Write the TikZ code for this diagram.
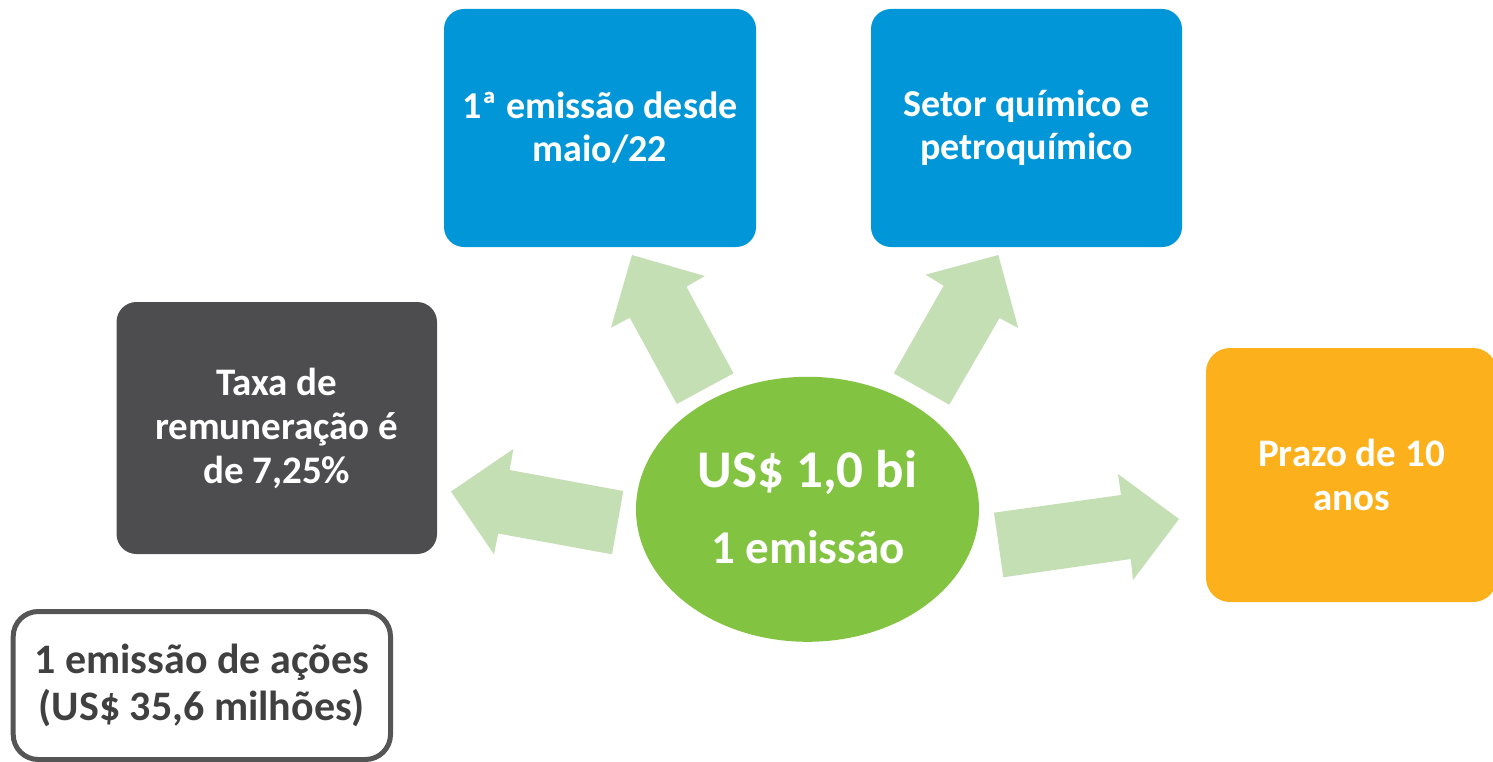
\documentclass[tikz,border=0pt]{standalone}
\usepackage{fontspec}
\setmainfont{Carlito}
\usetikzlibrary{shapes.geometric}
\definecolor{cblue}{HTML}{0096D8}
\definecolor{cdark}{HTML}{4D4D4F}
\definecolor{corange}{HTML}{FBB01C}
\definecolor{cgreen}{HTML}{82C341}
\definecolor{clight}{HTML}{C3DFB3}
\definecolor{cborder}{HTML}{555555}
\definecolor{ctext}{HTML}{404040}
\begin{document}
\begin{tikzpicture}[x=1pt,y=-1pt,
  box/.style={rectangle, rounded corners=20pt, inner sep=0pt, align=center,
    text=white, font=\bfseries\fontsize{38}{43}\selectfont},
  blockarrow/.style={fill=clight, draw=none}]
\useasboundingbox (0,0) rectangle (1493,762);
\clip (0,0) rectangle (1493,762);
% boxes
\node[box, fill=cblue, minimum width=312pt, minimum height=238pt] (b1) at (600,128) {1ª emissão desde\\maio/22};
\node[box, fill=cblue, minimum width=311pt, minimum height=238pt] (b2) at (1026.5,128) {Setor químico e\\petroquímico};
\node[box, fill=cdark, minimum width=320.5pt, minimum height=252pt, font=\bfseries\fontsize{39}{44}\selectfont] (b3) at (276.75,428) {Taxa de\\remuneração é\\de 7,25\%};
\node[box, fill=corange, rounded corners=24pt, minimum width=291pt, minimum height=254pt, font=\bfseries\fontsize{39}{44}\selectfont] (b4) at (1351.5,475) {Prazo de 10\\anos};
\node[rectangle, draw=cborder, line width=5pt, rounded corners=25pt, inner sep=0pt,
  minimum width=377.3pt, minimum height=148pt, align=center, text=ctext,
  font=\bfseries\fontsize{42}{47}\selectfont] (b5) at (201.85,685.5) {1 emissão de ações\\(US\$ 35,6 milhões)};
% block arrows
\fill[blockarrow] (676.8,404) -- (629.8,317.7) -- (611,327.7) -- (632,255) -- (704.8,276) -- (686.4,286.7) -- (733.5,373.3) -- cycle;
\fill[blockarrow] (893.8,373.3) -- (949.3,404.7) -- (999.5,318) -- (1018.2,328) -- (998.3,255) -- (925.6,274.7) -- (943.6,285.7) -- cycle;
\fill[blockarrow] (623.3,491) -- (509.6,470) -- (513.4,449) -- (451,491.5) -- (494,554.3) -- (498.2,533.5) -- (612,554.3) -- cycle;
\fill[blockarrow] (994,512.7) -- (1121,495) -- (1118,474) -- (1179,519) -- (1133,580) -- (1130.7,559) -- (1003.3,577.3) -- cycle;
% centre
\node[ellipse, fill=cgreen, inner sep=0pt, minimum width=343pt, minimum height=265pt] (c) at (807.5,509.3) {};
\node[anchor=base, text=white, inner sep=0pt, font=\bfseries\fontsize{53}{60}\selectfont] (c1) at (807.5,487) {US\$ 1,0 bi};
\node[anchor=base, text=white, inner sep=0pt, font=\bfseries\fontsize{47}{52}\selectfont] (c2) at (808,563) {1 emissão};
\end{tikzpicture}
\end{document}
